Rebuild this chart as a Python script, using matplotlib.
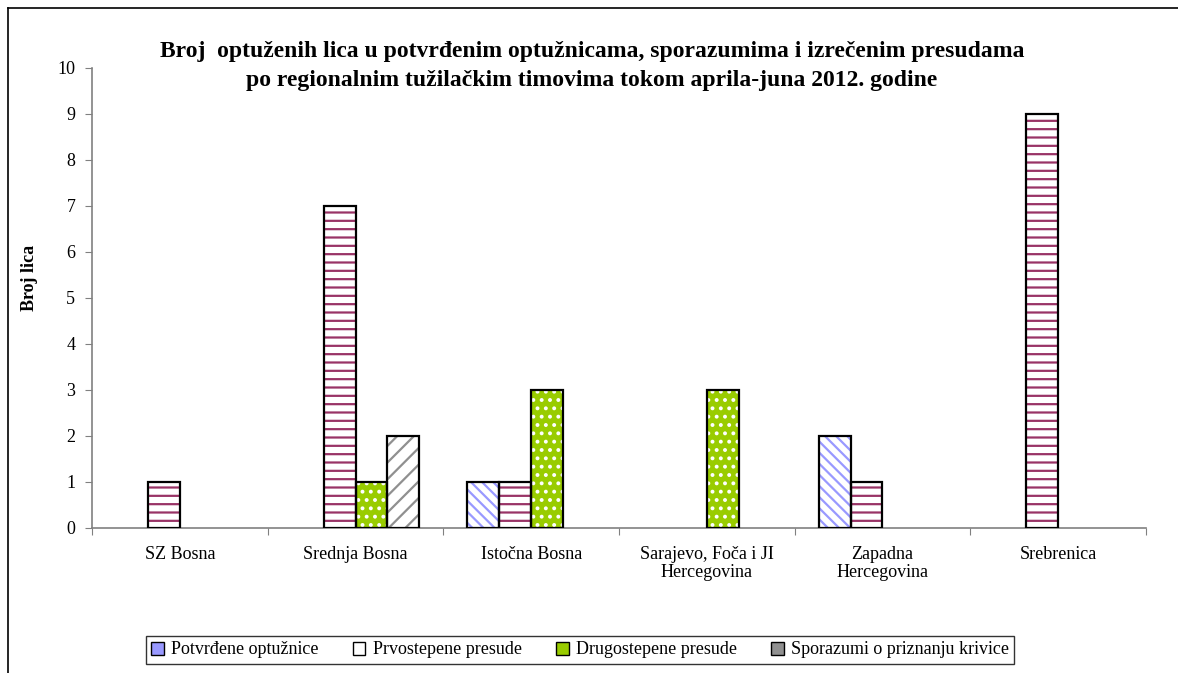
import matplotlib
matplotlib.use("Agg")
import matplotlib.pyplot as plt
import numpy as np
from matplotlib.patches import Patch

plt.rcParams['font.family'] = ['Liberation Serif', 'DejaVu Serif']
plt.rcParams['hatch.linewidth'] = 1.6

categories = ["SZ Bosna", "Srednja Bosna", "Istočna Bosna",
              "Sarajevo, Foča i JI\nHercegovina", "Zapadna\nHercegovina", "Srebrenica"]
series_names = ["Potvrđene optužnice", "Prvostepene presude",
                "Drugostepene presude", "Sporazumi o priznanju krivice"]
potvrdene = [0, 0, 1, 0, 2, 0]
prvostepene = [1, 7, 1, 0, 1, 9]
drugostepene = [0, 1, 3, 3, 0, 0]
sporazumi = [0, 2, 0, 0, 0, 0]
series = [potvrdene, prvostepene, drugostepene, sporazumi]

styles = [
    dict(face="white", hatch="\\\\\\", hcolor="#9999ff"),
    dict(face="white", hatch="--", hcolor="#993366"),
    dict(face="#99cc00", hatch="..", hcolor="white"),
    dict(face="white", hatch="//", hcolor="#909090"),
]

W, H = 1178, 673
fig = plt.figure(figsize=(W / 100, H / 100), dpi=100)
ax = fig.add_axes([92 / W, 1 - 528 / H, (1146 - 92) / W, (528 - 68) / H])

x = np.arange(len(categories))
bw = 0.182
for i, (vals, st) in enumerate(zip(series, styles)):
    xs = x + (i - 1.5) * bw
    v = np.array(vals, dtype=float)
    mask = v > 0
    ax.bar(xs[mask], v[mask], width=bw, color=st["face"], hatch=st["hatch"],
           edgecolor=st["hcolor"], linewidth=0, zorder=2)
    ax.bar(xs[mask], v[mask], width=bw, fill=False, edgecolor="black",
           linewidth=1.6, zorder=3)

ax.set_xlim(-0.5, len(categories) - 0.5)
ax.set_ylim(0, 10)
ax.set_yticks(range(0, 11))
ax.tick_params(axis='y', labelsize=13, color="#808080", length=5, pad=7)
ax.set_xticks(np.arange(-0.5, len(categories), 1.0))
ax.set_xticklabels([])
ax.set_xticks(x, minor=True)
ax.set_xticklabels(categories, minor=True, fontsize=13, linespacing=1.05)
ax.tick_params(axis='x', which='major', color="#808080", length=5)
ax.tick_params(axis='x', which='minor', length=0, pad=13)
for s in ["top", "right"]:
    ax.spines[s].set_visible(False)
for s in ["left", "bottom"]:
    ax.spines[s].set_color("#808080")
    ax.spines[s].set_linewidth(1.2)

fig.text(592 / W, 1 - 66 / H,
         "Broj  optuženih lica u potvrđenim optužnicama, sporazumima i izrečenim presudama\n"
         "po regionalnim tužilačkim timovima tokom aprila-juna 2012. godine",
         ha="center", va="center", fontsize=17, fontweight="bold", linespacing=1.5)
fig.text(30 / W, 1 - 278 / H, "Broj lica", rotation=90, ha="center", va="center",
         fontsize=13, fontweight="bold")

# outer frame (top and left visible in reference)
fig.add_artist(plt.Line2D([8 / W, 8 / W], [0, 1 - 8 / H], color="black", lw=1.2,
                          transform=fig.transFigure))
fig.add_artist(plt.Line2D([8 / W, 1], [1 - 8 / H, 1 - 8 / H], color="black", lw=1.2,
                          transform=fig.transFigure))

handles = [Patch(facecolor="#9999ff", edgecolor="black"),
           Patch(facecolor="white", edgecolor="black"),
           Patch(facecolor="#99cc00", edgecolor="black"),
           Patch(facecolor="#909090", edgecolor="black")]
leg = fig.legend(handles, series_names, loc="center", bbox_to_anchor=(580 / W, 1 - 650 / H),
                 ncol=4, fontsize=13, frameon=True, fancybox=False, edgecolor="black",
                 handlelength=0.7, handleheight=0.7, handletextpad=0.4, columnspacing=1.9,
                 borderpad=0.3)
leg.get_frame().set_linewidth(1.0)

fig.savefig("out.png", dpi=100, facecolor="white")
